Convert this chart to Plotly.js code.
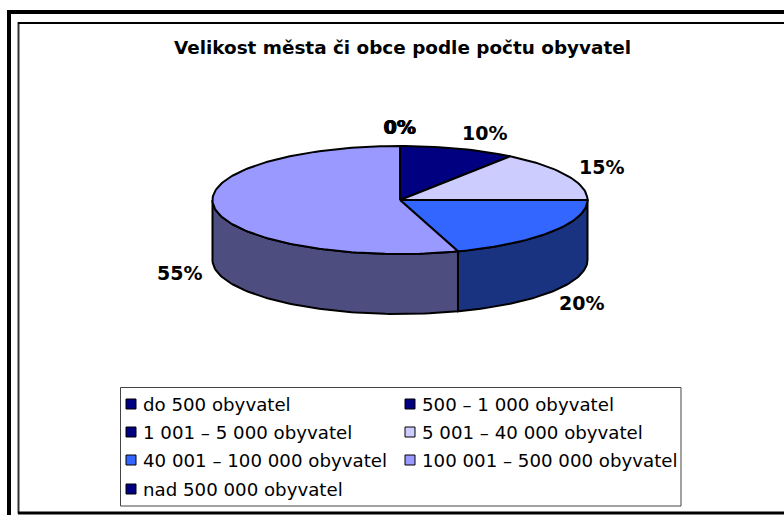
<!DOCTYPE html>
<html>
<head>
<meta charset="utf-8">
<script src="https://cdn.plot.ly/plotly-3.0.1.min.js"></script>
<style>html,body{margin:0;padding:0;background:#fff;overflow:hidden}</style>
</head>
<body>
<div id="chart" style="width:784px;height:515px"></div>
<script>
// Data
const categories = ["do 500 obyvatel","500 – 1 000 obyvatel","1 001 – 5 000 obyvatel","5 001 – 40 000 obyvatel","40 001 – 100 000 obyvatel","100 001 – 500 000 obyvatel","nad 500 000 obyvatel"];
const values = [0,0,10,15,20,55,0];
const topColors = ["#000080","#000080","#000080","#CCCCFF","#3366FF","#9999FF","#000080"];
const sideColors = ["#000040","#000040","#000040","#666680","#193380","#4D4D80","#000040"];
const chartTitle = "Velikost města či obce podle počtu obyvatel";

// Layout (pixel-like axis units)
const cx=400, cy=200, rx=187.5, ry=54, depth=60;
const labelPos = [[399,127],[399.6,127],[484,133],[601,167],[581.5,302.5],[179,273],[400,127]];
const legendPos = [[131,404],[410,404],[131,432],[410,432],[131,460],[410,460],[131,489]];
const legendTextGap = 10;

const px=a=>cx+rx*Math.sin(a*Math.PI/180), py=a=>cy-ry*Math.cos(a*Math.PI/180);
const arc=(a,b)=>{const o=[];const n=Math.max(1,Math.ceil((b-a)/1.5));for(let i=0;i<=n;i++)o.push(a+(b-a)*i/n);return o;};
const traces=[], annotations=[];
const total=values.reduce((s,v)=>s+v,0);
let acc=0;
const sides=[], tops=[];
const edge={color:"#000",width:2};
values.forEach((v,i)=>{
  const a=acc/total*360, b=(acc+v)/total*360; acc+=v;
  if(v>0){
    const s=Math.max(a,90), e=Math.min(b,270);
    if(e>s){
      const A=arc(s,e);
      sides.push({type:"scatter",mode:"lines",fill:"toself",fillcolor:sideColors[i],line:edge,showlegend:false,hoverinfo:"skip",
        x:A.map(px).concat(A.slice().reverse().map(px)).concat([px(s)]),
        y:A.map(t=>py(t)+depth).concat(A.slice().reverse().map(py)).concat([py(s)+depth])});
    }
    const T=arc(a,b);
    tops.push({type:"scatter",mode:"lines",fill:"toself",fillcolor:topColors[i],line:edge,showlegend:false,name:categories[i],hoverinfo:"skip",
      x:[cx].concat(T.map(px)).concat([cx]),
      y:[cy].concat(T.map(py)).concat([cy])});
  }
  annotations.push({x:labelPos[i][0],y:labelPos[i][1],xref:"x",yref:"y",text:v+"%",showarrow:false,font:{family:"DejaVu Sans",size:19,color:"#000",weight:"bold"}});
  annotations.push({x:legendPos[i][0]+legendTextGap,y:legendPos[i][1],xref:"x",yref:"y",xanchor:"left",text:categories[i],showarrow:false,font:{family:"DejaVu Sans",size:18.2,color:"#000"}});
});
traces.push(...sides,...tops);
categories.forEach((c,i)=>{
  traces.push({type:"scatter",mode:"markers",x:[legendPos[i][0]],y:[legendPos[i][1]],name:c,showlegend:false,hoverinfo:"skip",
    marker:{symbol:"square",size:10,color:topColors[i],line:{color:"#000",width:1}}});
});
const layout={
  width:784,height:515,margin:{l:0,r:0,t:0,b:0},paper_bgcolor:"#fff",plot_bgcolor:"#fff",
  title:{text:chartTitle,x:402.5/784,xanchor:"center",y:1-48/515,yanchor:"middle",font:{family:"DejaVu Sans",size:18.4,color:"#000",weight:"bold"}},
  xaxis:{range:[0,784],visible:false,fixedrange:true},
  yaxis:{range:[515,0],visible:false,fixedrange:true},
  annotations,
  shapes:[
    {type:"line",x0:9,x1:9,y0:10,y1:515,line:{color:"#000",width:4}},
    {type:"line",x0:7,x1:784,y0:12,y1:12,line:{color:"#000",width:4}},
    {type:"line",x0:18.5,x1:18.5,y0:22,y1:513.5,line:{color:"#333",width:2}},
    {type:"line",x0:18,x1:784,y0:23,y1:23,line:{color:"#000",width:2}},
    {type:"line",x0:18,x1:784,y0:513,y1:513,line:{color:"#000",width:3}},
    {type:"rect",x0:120.5,x1:681,y0:387.5,y1:506,line:{color:"#444",width:1},fillcolor:"rgba(0,0,0,0)"}
  ],
  showlegend:false
};
Plotly.newPlot("chart",traces,layout,{displayModeBar:false,staticPlot:true});
</script>
</body>
</html>
